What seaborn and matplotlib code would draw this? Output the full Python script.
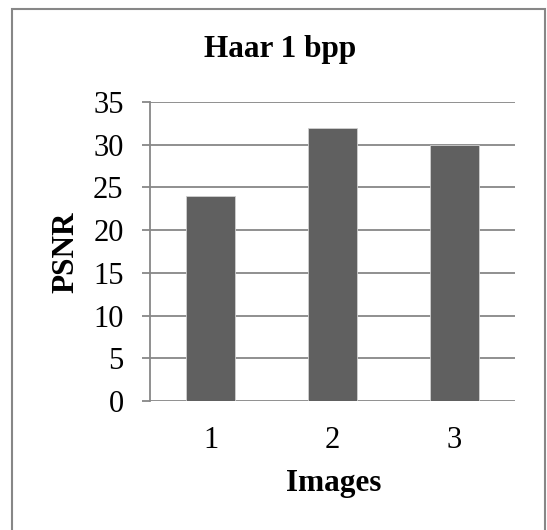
import matplotlib
matplotlib.use("Agg")
import matplotlib.pyplot as plt
import seaborn as sns
import pandas as pd
from matplotlib.patches import Rectangle

images = ["1", "2", "3"]
psnr = [24, 32, 30]
title = "Haar 1 bpp"
xlabel = "Images"
ylabel = "PSNR"
yticks = [0, 5, 10, 15, 20, 25, 30, 35]

sns.set_theme(style="white")
plt.rcParams["font.family"] = ["Liberation Serif", "DejaVu Serif"]
plt.rcParams["text.color"] = "black"

W, H = 547, 530
fig = plt.figure(figsize=(W / 100, H / 100), dpi=100)
ax = fig.add_axes([150 / W, 1 - 401 / H, (515 - 150) / W, (401 - 102) / H])

df = pd.DataFrame({"Images": images, "PSNR": psnr})
sns.barplot(data=df, x="Images", y="PSNR", color="#606060", saturation=1,
            width=0.4, ax=ax, zorder=3, edgecolor="#d0d0d0", linewidth=0.6)

grid_c = "#878787"
ax.set_ylim(0, 35)
ax.set_yticks(yticks)
ax.set_yticklabels([str(v) for v in yticks])
ax.yaxis.grid(True, color=grid_c, linewidth=1.3, zorder=0)
ax.set_axisbelow(True)
for s in ["top", "right", "bottom"]:
    ax.spines[s].set_visible(False)
ax.spines["left"].set_color(grid_c)
ax.spines["left"].set_linewidth(1.3)
ax.tick_params(axis="y", which="major", left=True, length=6, width=1.3, color=grid_c,
               pad=13, labelsize=22, labelcolor="black")
ax.tick_params(axis="x", length=0, pad=18, labelsize=22, labelcolor="black")
ax.set_xlabel("")
ax.set_ylabel("")

fig.text(280 / W, 1 - 57 / H, title, ha="center", va="baseline",
         fontsize=22.5, fontweight="bold", color="black")
fig.text(334 / W, 1 - 491 / H, xlabel, ha="center", va="baseline",
         fontsize=22.5, fontweight="bold", color="black")
fig.text(66 / W, 1 - 252 / H, ylabel, ha="center", va="center", rotation=90,
         fontsize=22.5, fontweight="bold", color="black")

fig.patches.append(Rectangle((12 / W, -0.05), (545 - 12) / W, 1.05 - 9 / H,
                             transform=fig.transFigure, fill=False,
                             edgecolor=grid_c, linewidth=1.5))

fig.savefig("out.png", dpi=100, facecolor="white")
